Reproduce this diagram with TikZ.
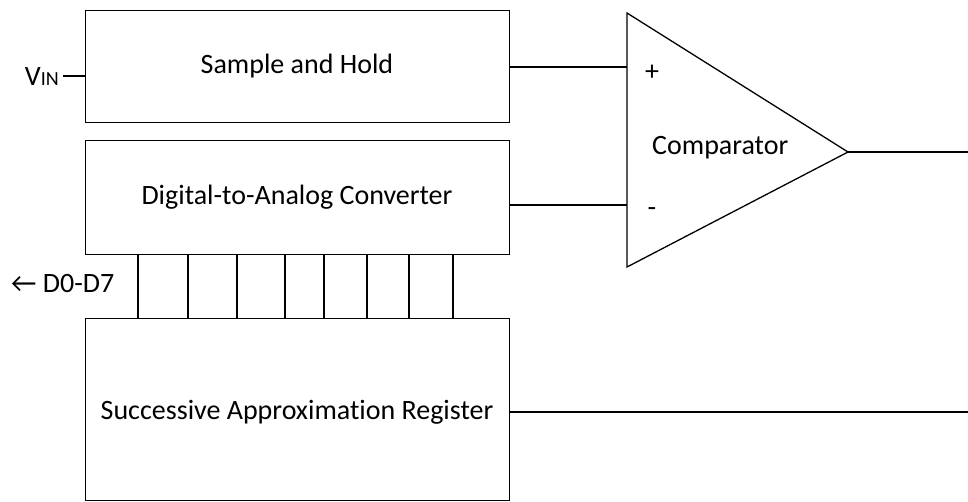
\documentclass[tikz,border=0pt]{standalone}
\usepackage{fontspec}
\setmainfont{Carlito}[Ligatures=NoCommon]
\usetikzlibrary{positioning}

\tikzset{
  block/.style={draw, line width=1.3pt, minimum width=424pt, anchor=north west, inner sep=0pt},
  wire/.style={line width=1.1pt},
  lbl/.style={font=\fontsize{28}{32}\selectfont, inner sep=0pt}
}

\begin{document}
\begin{tikzpicture}[x=1pt,y=-1pt]
  \useasboundingbox (0,0) rectangle (968,501);
  % the three blocks
  \node[block, minimum height=112pt] (sh)  at (85,10)  {};
  \node[block, minimum height=114pt] (dac) at (85,140) {};
  \node[block, minimum height=182pt] (sar) at (85,318) {};
  \node[lbl] at (297,66)  {Sample and Hold};
  \node[lbl] at (297,197) {Digital-to-Analog Converter};
  \node[lbl] at (297,412) {Successive Approximation Register};
  % comparator
  \coordinate (cpl) at (627,67);
  \coordinate (cmi) at (627,205);
  \coordinate (cout) at (848,152);
  \draw[line width=1.3pt, line join=miter] (627,13) -- (cout) -- (627,267) -- cycle;
  \node[lbl, anchor=west] at (652,148) {Comparator};
  \node[lbl] at (652,73) {+};
  \node[lbl] at (652,212) {-};
  % input
  \coordinate (vin) at (63,76);
  \node[lbl, anchor=east] (vinl) at (59,77) {V{\fontsize{20}{24}\selectfont IN}};
  \draw[wire] (vin) -- (vin -| sh.west);
  % connections
  \draw[wire] (sh.east |- cpl) -- (cpl);
  \draw[wire] (dac.east |- cmi) -- (cmi);
  \draw[wire] (cout) -- (968,152);
  \draw[wire] (sar.east |- 0,412) -- (968,412);
  % data bus between DAC and SAR
  \foreach \x in {138,188,237,285,324,367,409,453}
    \draw[wire] (\x,254) -- (\x,318);
  \node[lbl, anchor=west] (bus) at (11,284) {← D0-D7};
\end{tikzpicture}
\end{document}
